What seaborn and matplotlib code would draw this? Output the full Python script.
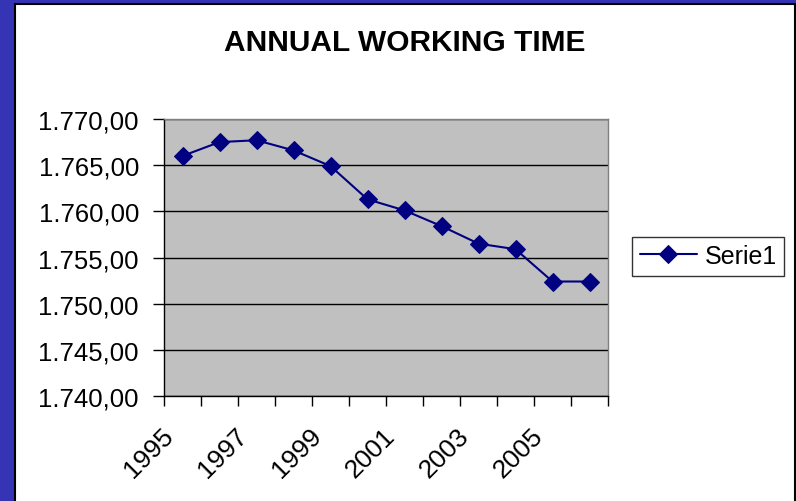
import matplotlib
matplotlib.use("Agg")
import matplotlib.pyplot as plt
import matplotlib.ticker as mticker
import matplotlib.transforms as mtransforms
from matplotlib.patches import Rectangle
import pandas as pd
import seaborn as sns

# Data
years = [1995, 1996, 1997, 1998, 1999, 2000, 2001, 2002, 2003, 2004, 2005, 2006]
hours = [1766.0, 1767.5, 1767.7, 1766.6, 1764.9, 1761.3,
         1760.1, 1758.4, 1756.5, 1755.9, 1752.4, 1752.4]
series_name = "Serie1"
y_ticks = [1740, 1745, 1750, 1755, 1760, 1765, 1770]

df = pd.DataFrame({"pos": range(len(years)), "hours": hours, "serie": series_name})

sns.set_theme(style="white")
plt.rcParams['font.family'] = ['Liberation Sans', 'DejaVu Sans']
plt.rcParams['text.color'] = 'black'
plt.rcParams['xtick.color'] = 'black'
plt.rcParams['ytick.color'] = 'black'

fig = plt.figure(figsize=(7.96, 5.02), dpi=100, facecolor="#3434b4")

# white chart area with black frame
frame = Rectangle((15 / 796, -0.02), 780 / 796, (497 / 502) + 0.02,
                  transform=fig.transFigure, facecolor="white",
                  edgecolor="black", linewidth=1.5, zorder=-10)
fig.patches.append(frame)

ax = fig.add_axes([164 / 796, 1 - 397 / 502, 444 / 796, 277 / 502])
ax.set_zorder(5)
ax.set_facecolor("#c0c0c0")

sns.lineplot(data=df, x="pos", y="hours", hue="serie", palette=["#000080"],
             marker="D", markersize=9, markeredgecolor="#000080",
             linewidth=1.5, ax=ax)

ax.set_xlim(-0.5, len(years) - 0.5)
ax.set_ylim(1740, 1770)
ax.set_yticks(y_ticks)
ax.yaxis.set_major_formatter(mticker.FuncFormatter(
    lambda v, p: f"{v:,.2f}".replace(",", "X").replace(".", ",").replace("X", ".")))
ax.yaxis.grid(True, color="black", linewidth=1)
ax.set_axisbelow(True)

ax.set_xticks(range(0, len(years), 2))
ax.set_xticklabels([str(y) for y in years[::2]], rotation=45, ha="right",
                   va="baseline", rotation_mode="anchor")
ax.set_xticks([i - 0.5 for i in range(len(years) + 1)], minor=True)
ax.tick_params(axis="x", which="major", length=0, pad=29, labelsize=19,
               labelcolor="black")
ax.tick_params(axis="x", which="minor", length=7, width=1, color="black",
               direction="out", bottom=True)
ax.tick_params(axis="y", which="major", length=8, width=1, color="black",
               direction="out", left=True, labelsize=18.5, pad=10,
               labelcolor="black")

for side, sp in ax.spines.items():
    sp.set_color("#808080")
    sp.set_linewidth(1)
ax.spines["left"].set_color("black")
ax.spines["bottom"].set_color("black")

ax.set_xlabel("")
ax.set_ylabel("")

leg = ax.legend(loc="center left", bbox_to_anchor=(632 / 796, 1 - 257 / 502),
                bbox_transform=fig.transFigure, frameon=True, fancybox=False,
                fontsize=18, borderpad=0.3, handlelength=2.3,
                handletextpad=0.3, borderaxespad=0)
leg.get_frame().set_edgecolor("black")
leg.get_frame().set_linewidth(1)
for t in leg.get_texts():
    t.set_color("black")

fig.text(405 / 796, 1 - 43 / 502, "ANNUAL WORKING TIME", ha="center",
         va="center", fontsize=21.5, fontweight="bold", color="black")

# shift year labels a little to the left, like the original
shift = mtransforms.ScaledTranslation(-8 / 100, 0, fig.dpi_scale_trans)
for lab in ax.get_xticklabels():
    lab.set_transform(lab.get_transform() + shift)

fig.savefig("out.png", dpi=100, facecolor=fig.get_facecolor())
